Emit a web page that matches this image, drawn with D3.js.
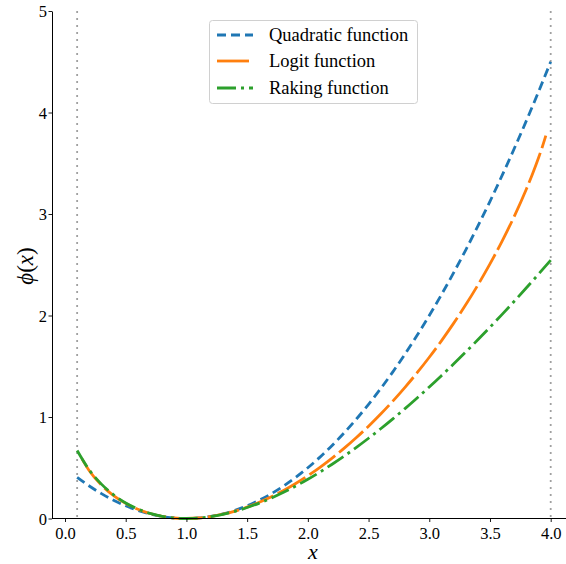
<!DOCTYPE html>
<html>
<head>
<meta charset="utf-8">
<script src="https://cdn.jsdelivr.net/npm/d3@7"></script>
<style>
  html, body { margin: 0; padding: 0; background: #fff; }
  svg { display: block; }
  text { font-family: "Liberation Serif", "Times New Roman", serif; fill: #000; }
</style>
</head>
<body>
<svg id="chart" width="566" height="564"></svg>
<script>
// Distance functions phi(x) for calibration weights
const xGrid = [0.1,0.2,0.3,0.4,0.5,0.6,0.7,0.8,0.9,1.0,1.1,1.2,1.3,1.4,1.5,1.6,1.7,1.8,1.9,2.0,
               2.1,2.2,2.3,2.4,2.5,2.6,2.7,2.8,2.9,3.0,3.1,3.2,3.3,3.4,3.5,3.6,3.7,3.8,3.9,4.0];
const quadratic = [0.405,0.32,0.245,0.18,0.125,0.08,0.045,0.02,0.005,0,0.005,0.02,0.045,0.08,0.125,0.18,0.245,0.32,0.405,0.5,
                   0.605,0.72,0.845,0.98,1.125,1.28,1.445,1.62,1.805,2.0,2.205,2.42,2.645,2.88,3.125,3.38,3.645,3.92,4.205,4.5];
const raking = [0.6697,0.4781,0.3388,0.2335,0.1534,0.0935,0.0503,0.0215,0.0052,0,0.0048,0.0188,0.0411,0.0711,0.1082,0.152,0.2021,0.258,0.3195,0.3863,
                0.4581,0.5346,0.6157,0.7011,0.7907,0.8843,0.9818,1.0829,1.1877,1.2958,1.4073,1.5221,1.6399,1.7608,1.8847,2.0114,2.1408,2.273,2.4078,2.5452];
// logit is only defined strictly inside its bounds (0.1, 4)
const xLogit = [0.14,0.2,0.3,0.4,0.5,0.6,0.7,0.8,0.9,1.0,1.1,1.2,1.3,1.4,1.5,1.6,1.7,1.8,1.9,2.0,
                2.1,2.2,2.3,2.4,2.5,2.6,2.7,2.8,2.9,3.0,3.1,3.2,3.3,3.4,3.5,3.6,3.7,3.8,3.85,3.9,3.93,3.96];
const logit = [0.5874,0.4698,0.3289,0.2262,0.149,0.0912,0.0493,0.0212,0.0051,0,0.0049,0.0191,0.0421,0.0734,0.1127,0.1597,0.2143,0.2761,0.3452,0.4215,
               0.5048,0.5953,0.6929,0.7977,0.9099,1.0296,1.1569,1.2923,1.4361,1.5887,1.7504,1.9222,2.105,2.2998,2.5084,2.7329,2.9769,3.2463,3.394,3.554,3.658,3.772];
const bounds = [0.1, 4.0];
const xTicks = [0,0.5,1,1.5,2,2.5,3,3.5,4];
const yTicks = [0,1,2,3,4,5];
const seriesNames = ["Quadratic function", "Logit function", "Raking function"];

const serif = '"Liberation Serif", "Times New Roman", serif';
const svg = d3.select("#chart");
const x = d3.scaleLinear().domain([0, 4]).range([65, 550.7]);
const y = d3.scaleLinear().domain([0, 5]).range([518.5, 11]);
const axisLeftX = 52, axisRightX = 566;

const series = [
  { name: seriesNames[0], xs: xGrid, ys: quadratic, color: "#1f77b4", dash: "9,5" },
  { name: seriesNames[1], xs: xLogit, ys: logit, color: "#ff7f0e", dash: "32,5" },
  { name: seriesNames[2], xs: xGrid, ys: raking, color: "#2ca02c", dash: "19,5,3,5" }
];

// bounds of the weights
svg.selectAll("line.bound").data(bounds).enter().append("line")
  .attr("class", "bound")
  .attr("x1", d => x(d)).attr("x2", d => x(d))
  .attr("y1", y(5)).attr("y2", y(0))
  .attr("stroke", "#a0a0a0").attr("stroke-width", 1.8)
  .attr("stroke-dasharray", "2,5");

const line = d3.line().curve(d3.curveMonotoneX)
  .x(d => x(d[0])).y(d => y(d[1]));

series.forEach(s => {
  svg.append("path")
    .datum(s.xs.map((v, i) => [v, s.ys[i]]))
    .attr("d", line)
    .attr("fill", "none")
    .attr("stroke", s.color)
    .attr("stroke-width", 2.8)
    .attr("stroke-dasharray", s.dash);
});

// axes
const gx = svg.append("g").attr("transform", `translate(0,${y(0)})`)
  .call(d3.axisBottom(x).tickValues(xTicks).tickFormat(d3.format(".1f")).tickSize(3.5).tickSizeOuter(0));
gx.select(".domain").attr("d", `M${axisLeftX},0H${axisRightX}`);
gx.selectAll(".tick text").attr("dy", null).attr("y", 20);

const gy = svg.append("g").attr("transform", `translate(${axisLeftX},0)`)
  .call(d3.axisLeft(y).tickValues(yTicks).tickFormat(d3.format("d")).tickSize(3.5).tickSizeOuter(0));
gy.selectAll(".tick text").attr("x", -5).attr("dy", "0.34em");

[gx, gy].forEach(g => {
  g.attr("font-family", serif).attr("font-size", 16.5);
  g.selectAll(".tick text").style("font-family", serif).style("font-size", "16.5px").attr("fill", "#000");
  g.select(".domain").attr("stroke", "#000").attr("stroke-width", 1);
  g.selectAll(".tick line").attr("stroke", "#000").attr("stroke-width", 0.9);
});

// axis labels
svg.append("text").attr("x", 313).attr("y", 559)
  .attr("text-anchor", "middle").style("font-size", "22px").style("font-style", "italic").text("x");

const yl = svg.append("text").attr("transform", "translate(33,266) rotate(-90)")
  .attr("text-anchor", "middle").style("font-size", "23px");
yl.append("tspan").style("font-style", "italic").text("ϕ");
yl.append("tspan").text("(");
yl.append("tspan").style("font-style", "italic").text("x");
yl.append("tspan").text(")");

// legend
const lg = svg.append("g");
lg.append("rect").attr("x", 209.5).attr("y", 20.5).attr("width", 208).attr("height", 83)
  .attr("rx", 3).attr("fill", "#fff").attr("fill-opacity", 0.8)
  .attr("stroke", "#d0d0d0").attr("stroke-width", 1);
const rowY = [35, 61, 88];
series.forEach((s, i) => {
  lg.append("line").attr("x1", 217).attr("x2", 253).attr("y1", rowY[i]).attr("y2", rowY[i])
    .attr("stroke", s.color).attr("stroke-width", 2.8).attr("stroke-dasharray", s.dash);
  lg.append("text").attr("x", 269).attr("y", rowY[i]).attr("dy", "0.35em")
    .style("font-size", "18.5px").text(s.name);
});
</script>
</body>
</html>
